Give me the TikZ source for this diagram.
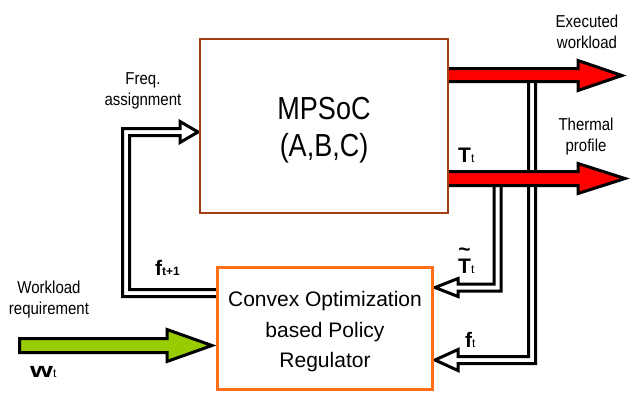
\documentclass[tikz,border=0pt]{standalone}
\usepackage{fontspec}
\setmainfont{Liberation Sans}
\usepackage{graphicx}
\definecolor{arrred}{RGB}{255,0,0}
\definecolor{arrgreen}{RGB}{153,204,0}
\definecolor{boxbrown}{RGB}{165,62,22}
\definecolor{boxorange}{RGB}{255,110,20}
\newcommand{\vst}[1]{\scalebox{1}[1.15]{#1}}
\newcommand{\vbig}[1]{\scalebox{1}[1.18]{#1}}
\newcommand{\bgsym}[1]{{\fontsize{21}{21}\selectfont\bfseries #1}}
\newcommand{\smsym}[1]{{\fontsize{12}{12}\selectfont #1}}
\newcommand{\tildeT}{\ooalign{T\cr\hidewidth\raisebox{17pt}{\fontsize{21}{21}\selectfont\bfseries\textasciitilde}\hidewidth\cr}}
\begin{document}
\begin{tikzpicture}[x=1pt,y=-1pt,
  hollow/.style={draw=black,line width=3pt,fill=white,line join=miter},
  outl/.style={draw=black,line width=3pt,line join=miter},
  boxA/.style={draw=boxbrown,line width=2.5pt,fill=white,inner sep=0pt},
  boxB/.style={draw=boxorange,line width=3pt,fill=white,inner sep=0pt},
  lbl/.style={font=\fontsize{15}{21}\selectfont,align=center,inner sep=0pt},
  bigtxt/.style={font=\fontsize{27}{37}\selectfont,align=center,inner sep=0pt},
  regtxt/.style={font=\fontsize{21}{30.5}\selectfont,align=center,inner sep=0pt},
  sym/.style={inner sep=0pt,anchor=base west}]
\useasboundingbox (0,0) rectangle (631,392);
\fill[white] (0,0) rectangle (631,392);

% hollow feedback arrows
\draw[hollow] (218,289.5) -- (129.5,289.5) -- (129.5,135.5) -- (180,135.5) -- (180,142.5)
  -- (198,132) -- (180,121.5) -- (180,128.5) -- (122.5,128.5) -- (122.5,296.5) -- (218,296.5) -- cycle;
\draw[hollow] (494,184) -- (494,284) -- (458,284) -- (458,278.5) -- (435,287.5) -- (458,296.5)
  -- (458,291) -- (501,291) -- (501,184) -- cycle;
\draw[hollow] (528.5,80) -- (528.5,356.5) -- (458,356.5) -- (458,349.5) -- (435,360) -- (458,370.5)
  -- (458,363.5) -- (535.5,363.5) -- (535.5,80) -- cycle;

% red output arrows
\fill[arrred] (448,68.5) -- (578,68.5) -- (578,60.5) -- (622,75.5) -- (578,90.5) -- (578,81.5) -- (448,81.5) -- cycle;
\draw[outl] (448,68.5) -- (578,68.5) -- (578,60.5) -- (622,75.5) -- (578,90.5) -- (578,81.5) -- (448,81.5);
\fill[arrred] (448,171.5) -- (578,171.5) -- (578,163.5) -- (625,178.5) -- (578,193.5) -- (578,185.5) -- (448,185.5) -- cycle;
\draw[outl] (448,171.5) -- (578,171.5) -- (578,163.5) -- (625,178.5) -- (578,193.5) -- (578,185.5) -- (448,185.5);

% green input arrow
\draw[outl,fill=arrgreen] (19.5,338.5) -- (167,338.5) -- (167,329.5) -- (212,345.5) -- (167,361.5) -- (167,352.5) -- (19.5,352.5) -- cycle;

% boxes
\node[boxA,minimum width=248pt,minimum height=174pt] (mpsoc) at (324,126) {};
\node[boxB,minimum width=214.5pt,minimum height=121.5pt] (reg) at (324.75,328.25) {};

% texts
\node[bigtxt] (mpsoctxt) at (324,130) {\vbig{MPSoC}\\\vbig{(A,B,C)}};
\node[regtxt] (regtxt) at (325,332) {Convex Optimization\\based Policy\\Regulator};
\node[lbl] (exec) at (587,31.5) {\vst{Executed}\\\vst{workload}};
\node[lbl] (therm) at (586,137) {\vst{Thermal}\\\vst{profile}};
\node[lbl] (freq) at (143,91) {\vst{Freq.}\\\vst{assignment}};
\node[lbl] (wreq) at (49,300) {\vst{Workload}\\\vst{requirement}};

\node[sym] (Tt) at (458,162) {\bgsym{T}\smsym{t}};
\node[sym] (Ttil) at (458,273) {\bgsym{\tildeT}\smsym{t}};
\node[sym] (ft) at (465,347) {\bgsym{f}\smsym{t}};
\node[sym] (ftp) at (155,275) {\bgsym{f}\smsym{\bfseries t+1}};
\node[sym] (wt) at (30,377) {\scalebox{1.4}[1]{\bgsym{w}}\smsym{t}};
\end{tikzpicture}
\end{document}
